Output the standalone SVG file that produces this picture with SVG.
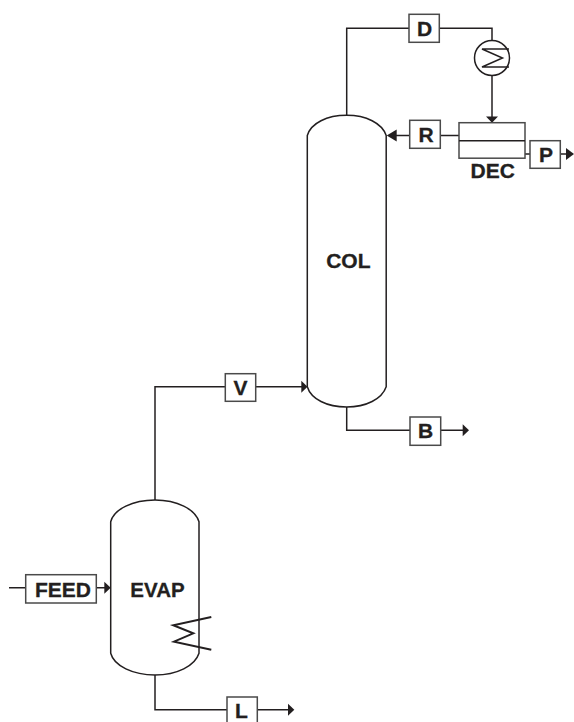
<svg xmlns="http://www.w3.org/2000/svg" width="574" height="722" viewBox="0 0 574 722">
<defs><style>
.l{fill:none;stroke:#231f20;stroke-width:1.5}
.b{fill:#fff;stroke:#4a4a4a;stroke-width:1.5}
.a{fill:#231f20;stroke:none}
text{font-family:"Liberation Sans",Arial,sans-serif;font-weight:700;font-size:21px;fill:#231f20;stroke:#231f20;stroke-width:.3;text-anchor:middle}
</style></defs>
<rect width="574" height="722" fill="#fff"/>
<g id="connectors">
<path class="l" d="M346.7 115.5V28.3H409M439.3 28.3H492V40.5"/>
<path class="l" d="M492 75.5V117"/><polygon class="a" points="486,116.5 498,116.5 492,122.7"/>
<path class="l" d="M459 135.5H440.3M409.7 135.5H396"/><polygon class="a" points="396.7,129.5 396.7,141.5 386.7,135.5"/>
<path class="l" d="M525 154H530M560.3 154H566"/><polygon class="a" points="566,148 566,160 574,154"/>
<path class="l" d="M155 500V386.7H225.3M255.7 386.7H302"/><polygon class="a" points="301.3,380.7 301.3,392.7 307.5,386.7"/>
<path class="l" d="M346.7 407V430.3H410M440.7 430.3H463"/><polygon class="a" points="462.7,424.3 462.7,436.3 469,430.3"/>
<path class="l" d="M9 587.7H25.7M96.3 587.7H105"/><polygon class="a" points="104.3,581.7 104.3,593.7 110.7,587.7"/>
<path class="l" d="M155 675V709.7H227M257.3 709.7H289"/><polygon class="a" points="288,703.7 288,715.7 294.3,709.7"/>
</g>
<g id="COL"><path class="l" style="fill:#fff" d="M307.3 135.5C311 123 327 115.3 346.7 115.3C366 115.3 382 123 386.2 135.5V386.7C382 399 366 407 346.7 407C327 407 311 399 307.3 386.7Z"/><text x="348.3" y="267.5">COL</text></g>
<g id="EVAP"><path class="l" style="fill:#fff" d="M110.7 521.7C114 509 133 500 155 500C177 500 195 509 199 521.7V653.3C195 666 177 675 155 675C133 675 114 666 110.7 653.3Z"/><text x="157.5" y="596.7" style="font-size:20.5px">EVAP</text><polyline class="l" style="stroke-width:2" points="211.3,617 173.3,625.3 193.3,633.3 174,641.7 211.3,649.7"/></g>
<g id="D"><rect class="b" x="409" y="14.3" width="30.3" height="28"/><text x="424.5" y="35.7">D</text></g>
<g id="HX"><circle class="l" style="fill:#fff" cx="492" cy="58" r="17.5"/><polyline class="l" points="509,49 482,49 502.5,58 482,67 509,67"/></g>
<g id="R"><rect class="b" x="409.7" y="120.3" width="30.6" height="28"/><text x="426" y="141.7">R</text></g>
<g id="DEC"><rect class="b" x="459" y="122.7" width="66" height="35.5"/><path class="l" d="M459 140.7H525"/><text x="492.7" y="177.7">DEC</text></g>
<g id="P"><rect class="b" x="530" y="140.7" width="30.3" height="27.6"/><text x="546" y="161.7">P</text></g>
<g id="V"><rect class="b" x="225.3" y="373.7" width="30.4" height="27.6"/><text x="240.5" y="394.7">V</text></g>
<g id="B"><rect class="b" x="410" y="417" width="30.7" height="28.3"/><text x="425.5" y="437.7">B</text></g>
<g id="FEED"><rect class="b" x="25.7" y="574.7" width="70.6" height="28.3"/><text x="63" y="596.7">FEED</text></g>
<g id="L"><rect class="b" x="227" y="697" width="30.3" height="28"/><text x="241.5" y="718">L</text></g>
</svg>
